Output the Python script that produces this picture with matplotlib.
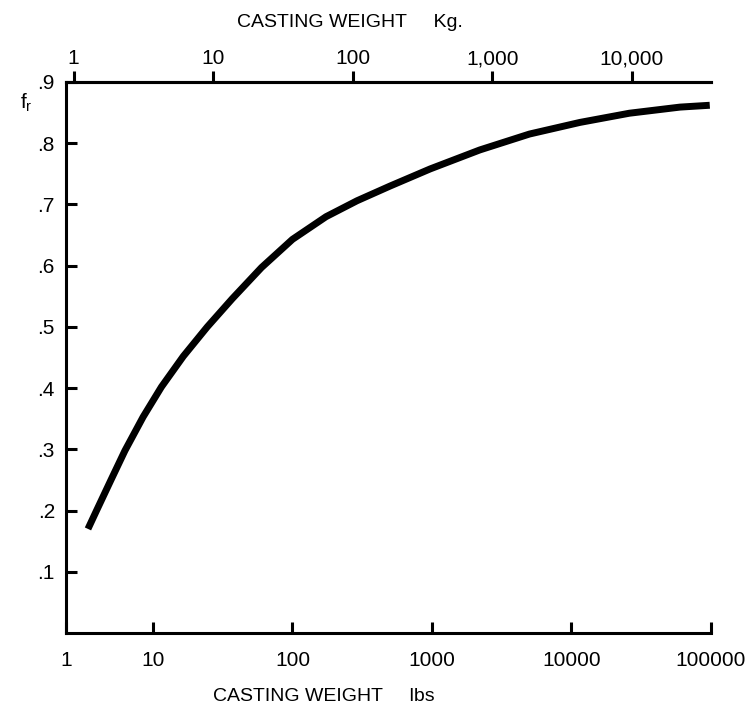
import matplotlib
matplotlib.use("Agg")
import matplotlib.pyplot as plt
from matplotlib import font_manager

# curve (casting weight in lbs, f_r)
weight_lbs = [3.42, 3.94, 5.0, 6.3, 8.5, 11.5, 16.5, 24.5, 37, 60, 100, 174,
              290, 500, 970, 2200, 5000, 11500, 26000, 60000, 98000]
f_r = [0.17, 0.2, 0.25, 0.298, 0.353, 0.402, 0.452, 0.5, 0.546, 0.597, 0.643,
       0.68, 0.706, 0.73, 0.758, 0.789, 0.815, 0.834, 0.849, 0.859, 0.862]

lbs_ticks = [10, 100, 1000, 10000, 100000]
lbs_labels = ['10', '100', '1000', '10000', '100000']
kg_ticks = [1, 10, 100, 1000, 10000]
kg_labels = ['1', '10', '100', '1,000', '10,000']
y_ticks = [0.1, 0.2, 0.3, 0.4, 0.5, 0.6, 0.7, 0.8, 0.9]
y_labels = ['.1', '.2', '.3', '.4', '.5', '.6', '.7', '.8', '.9']

# scale offset between the two axes as drawn in the original
lbs_per_kg = 2.7
x_left = 2.38  # left edge of the drawing, labelled "1"

names = {f.name for f in font_manager.fontManager.ttflist}
fam = 'Liberation Sans Narrow' if 'Liberation Sans Narrow' in names else 'Liberation Sans'
plt.rcParams['font.family'] = [fam, 'DejaVu Sans']
plt.rcParams['mathtext.fontset'] = 'custom'
plt.rcParams['mathtext.rm'] = fam

fig = plt.figure(figsize=(7.5, 7.05), dpi=100)
ax = fig.add_axes([66 / 750, 72 / 705, 645 / 750, 551 / 705])

ax.plot(weight_lbs, f_r, color='black', lw=5, solid_capstyle='butt',
        solid_joinstyle='round')

ax.set_xscale('log')
ax.set_xlim(x_left, 100000)
ax.set_ylim(0, 0.9)

ax.set_xticks([x_left] + lbs_ticks, ['1'] + lbs_labels)
ax.minorticks_off()
ax.set_yticks(y_ticks, y_labels)
ax.tick_params(axis='x', direction='in', length=8, width=2.2, labelsize=15, pad=13)
ax.tick_params(axis='y', direction='in', length=8, width=2.2, labelsize=15, pad=8)

for s in ['left', 'bottom', 'top']:
    ax.spines[s].set_linewidth(2.2)
ax.spines['right'].set_visible(False)

top = ax.secondary_xaxis('top', functions=(lambda x: x / lbs_per_kg, lambda x: x * lbs_per_kg))
top.set_xscale('log')
top.set_xticks(kg_ticks, kg_labels)
top.minorticks_off()
top.tick_params(direction='out', length=8, width=2.2, labelsize=15, pad=2)
top.spines['top'].set_linewidth(2.2)

ax.set_xlabel('CASTING WEIGHT     lbs', fontsize=14, x=0.40, labelpad=13)
top.set_xlabel('CASTING WEIGHT     Kg.', fontsize=14, x=0.44, labelpad=16)
fig.text(20 / 750, 1 - 103 / 705, r'$\mathregular{f_r}$', fontsize=15, ha='left', va='center')

fig.savefig('out.png', dpi=100, facecolor='white')
